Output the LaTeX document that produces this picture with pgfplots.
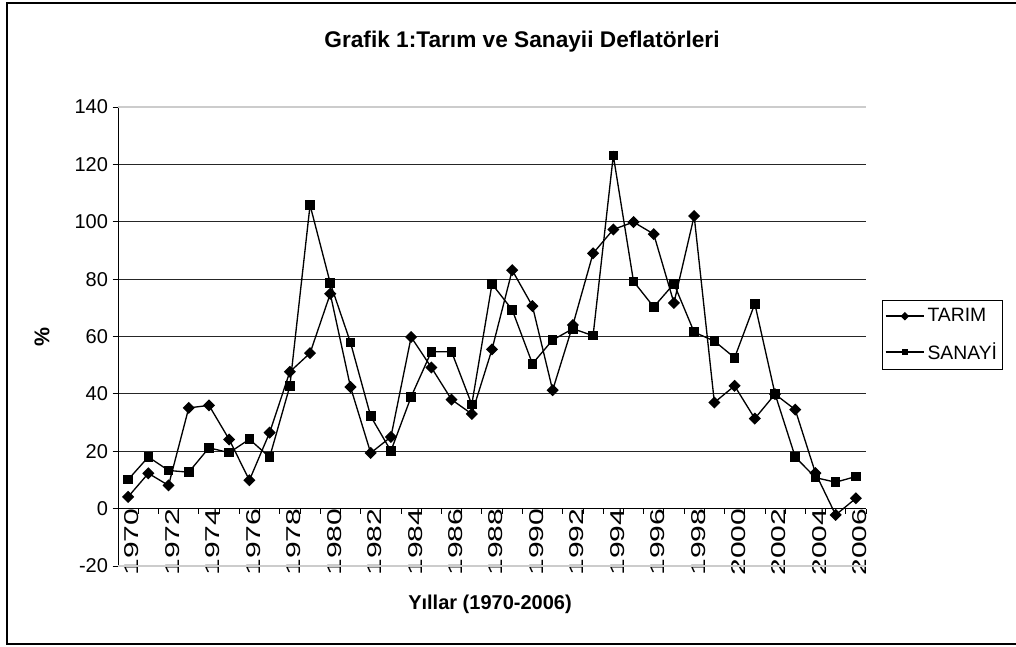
\documentclass[border=0pt]{standalone}
\usepackage{pgfplots}
\pgfplotsset{compat=1.18}
\usepackage{pgfplotstable}
\usepackage{graphicx}
\usepackage{fontspec}
\setmainfont{Liberation Sans}

\pgfplotstableread{
year tarim sanayi
1970 4.1 10.1
1971 12.3 18.0
1972 8.1 13.3
1973 35.1 12.7
1974 36.0 21.2
1975 24.1 19.5
1976 9.9 24.2
1977 26.5 17.9
1978 47.7 42.7
1979 54.2 105.8
1980 74.9 78.6
1981 42.4 57.9
1982 19.4 32.2
1983 25.0 20.1
1984 59.8 39.0
1985 49.2 54.7
1986 38.0 54.7
1987 33.0 36.3
1988 55.5 78.3
1989 83.1 69.3
1990 70.6 50.5
1991 41.3 58.8
1992 64.0 62.7
1993 89.0 60.3
1994 97.3 123.1
1995 99.9 79.2
1996 95.7 70.3
1997 71.7 78.4
1998 102.0 61.5
1999 37.0 58.4
2000 42.8 52.6
2001 31.4 71.4
2002 39.9 40.0
2003 34.5 18.0
2004 12.4 10.8
2005 -2.2 9.2
2006 3.6 11.2
}\data

\newcommand{\xl}[1]{\scalebox{1.5}[1]{#1}}

\begin{document}
\begin{tikzpicture}
\useasboundingbox (0pt,0pt) rectangle (762pt,484.5pt);
\draw[line width=1.5pt] (775pt,482.25pt) -- (5.25pt,482.25pt) -- (5.25pt,1.5pt) -- (775pt,1.5pt);
\node[font=\bfseries\fontsize{17}{19}\selectfont] at (391.5pt,453pt) {Grafik 1:Tarım ve Sanayii Deflatörleri};
\node[font=\bfseries\fontsize{16}{18}\selectfont, rotate=90] at (31.5pt,231.75pt) {\%};
\node[font=\bfseries\fontsize{15}{17}\selectfont] at (367.5pt,31.5pt) {Yıllar (1970-2006)};
\begin{axis}[
  at={(88.5pt,60pt)}, anchor=south west,
  scale only axis, width=561pt, height=344.25pt,
  xmin=1969.5, xmax=2006.5, ymin=-20, ymax=140,
  axis x line=middle, axis y line=left,
  axis line style={-, line width=0.75pt, black},
  tick align=outside, major tick length=4pt,
  tick style={black, line width=0.6pt},
  ytick={-20,0,20,40,60,80,100,120,140},
  yticklabels={-20,0,20,40,60,80,100,120,140},
  yticklabel style={font=\fontsize{15}{15}\selectfont},
  ymajorgrids, grid style={black!85, line width=0.7pt},
  xtick={1969.5,1970.5,...,2006.5}, xticklabels={},
  extra x ticks={1970,1972,...,2006},
  extra x tick labels={\xl{1970},\xl{1972},\xl{1974},\xl{1976},\xl{1978},\xl{1980},\xl{1982},\xl{1984},\xl{1986},\xl{1988},\xl{1990},\xl{1992},\xl{1994},\xl{1996},\xl{1998},\xl{2000},\xl{2002},\xl{2004},\xl{2006}},
  extra x tick style={major tick length=0pt, tick style={draw=none}},
  xticklabel style={rotate=90, anchor=east, inner sep=0pt, font=\fontsize{15}{15}\selectfont, yshift=-3pt},
  legend style={at={(1.021,0.5795)}, anchor=north west, draw=black, line width=0.75pt,
    font=\fontsize{14.5}{16}\selectfont, inner xsep=2pt, inner ysep=4pt, row sep=10pt,
    cells={anchor=west}},
  legend image code/.code={\draw[mark repeat=2,mark phase=2, /tikz/every mark/.append style={scale=0.65}] plot coordinates {(0pt,0pt) (14.5pt,0pt) (29pt,0pt)};},
]
\addplot[black, line width=1pt, mark=square*, mark size=2.7pt, mark options={rotate=45, solid}] table[x=year, y=tarim] {\data};
\addlegendentry{TARIM}
\addplot[black, line width=1pt, mark=square*, mark size=3.1pt, mark options={solid}] table[x=year, y=sanayi] {\data};
\addlegendentry{SANAYİ}
\draw[black!20, line width=1pt] (rel axis cs:0,1) -- (rel axis cs:1,1);
\draw[black!20, line width=1pt] (rel axis cs:0,0) -- (rel axis cs:1,0);
\end{axis}
\end{tikzpicture}
\end{document}
